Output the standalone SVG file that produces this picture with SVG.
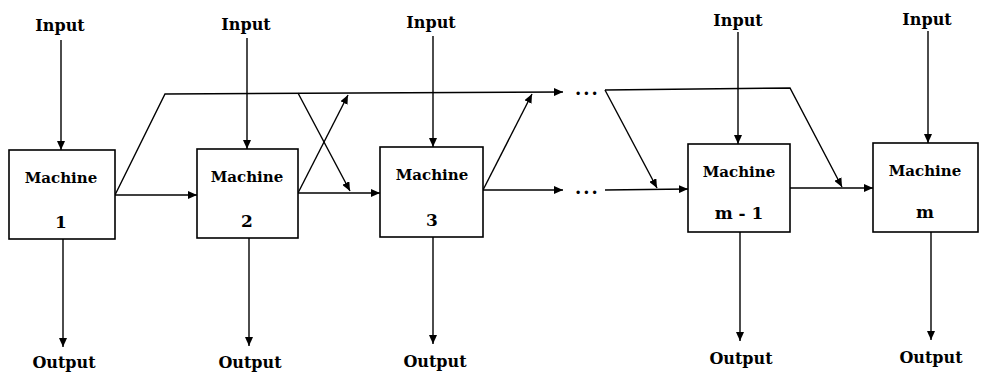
<svg xmlns="http://www.w3.org/2000/svg" width="987" height="375" viewBox="0 0 987 375">
<style>
.box{fill:#fff;stroke:#000;stroke-width:1.6}
.ln{fill:none;stroke:#000;stroke-width:1.4}
.t{font-family:"DejaVu Serif","Liberation Serif",serif;font-weight:bold;font-size:15px;fill:#000;text-anchor:middle}
.num{font-size:17px}
.lbl{font-size:16px}
.dots{font-size:18px;letter-spacing:2px;text-anchor:start}
</style>
<defs>
<marker id="ah" markerUnits="userSpaceOnUse" markerWidth="10" markerHeight="8" refX="9" refY="4" orient="auto">
<path d="M0,0 L9,4 L0,8 Z" fill="#000"/>
</marker>
</defs>
<rect width="987" height="375" fill="#fff"/>
<g id="connectors">
<line class="ln" x1="61" y1="40" x2="61" y2="150" marker-end="url(#ah)"/>
<line class="ln" x1="247" y1="38" x2="247" y2="149" marker-end="url(#ah)"/>
<line class="ln" x1="433" y1="36" x2="433" y2="147" marker-end="url(#ah)"/>
<line class="ln" x1="738" y1="32" x2="738" y2="144" marker-end="url(#ah)"/>
<line class="ln" x1="928" y1="31" x2="928" y2="143" marker-end="url(#ah)"/>
<line class="ln" x1="63" y1="239" x2="63" y2="347" marker-end="url(#ah)"/>
<line class="ln" x1="249" y1="238" x2="249" y2="346" marker-end="url(#ah)"/>
<line class="ln" x1="433" y1="237" x2="433" y2="344" marker-end="url(#ah)"/>
<line class="ln" x1="740" y1="232" x2="740" y2="341" marker-end="url(#ah)"/>
<line class="ln" x1="931" y1="232" x2="931" y2="340" marker-end="url(#ah)"/>
<line class="ln" x1="115" y1="195" x2="197" y2="195" marker-end="url(#ah)"/>
<line class="ln" x1="298" y1="193" x2="380" y2="193" marker-end="url(#ah)"/>
<path class="ln" d="M115,195 L165,94 L563,92" marker-end="url(#ah)"/>
<line class="ln" x1="298" y1="93" x2="350" y2="191" marker-end="url(#ah)"/>
<line class="ln" x1="298" y1="193" x2="348" y2="95" marker-end="url(#ah)"/>
<line class="ln" x1="483" y1="190" x2="532" y2="94" marker-end="url(#ah)"/>
<line class="ln" x1="483" y1="190" x2="563" y2="190" marker-end="url(#ah)"/>
<path class="ln" d="M605,90 L790,88 L842,187" marker-end="url(#ah)"/>
<line class="ln" x1="605" y1="90" x2="657" y2="188" marker-end="url(#ah)"/>
<line class="ln" x1="605" y1="190" x2="688" y2="189" marker-end="url(#ah)"/>
<line class="ln" x1="790" y1="188" x2="873" y2="188" marker-end="url(#ah)"/>
<text class="t dots" x="575" y="95">...</text>
<text class="t dots" x="575" y="194">...</text>
</g>
<g id="machine1">
<rect class="box" x="9" y="150" width="106" height="89"/>
<text class="t" x="61" y="183">Machine</text>
<text class="t num" x="61" y="228">1</text>
<text class="t lbl" x="60" y="31">Input</text>
<text class="t lbl" x="64" y="368">Output</text>
</g>
<g id="machine2">
<rect class="box" x="197" y="149" width="101" height="89"/>
<text class="t" x="247" y="182">Machine</text>
<text class="t num" x="247" y="227">2</text>
<text class="t lbl" x="246" y="30">Input</text>
<text class="t lbl" x="250" y="368">Output</text>
</g>
<g id="machine3">
<rect class="box" x="380" y="147" width="103" height="90"/>
<text class="t" x="432" y="180">Machine</text>
<text class="t num" x="432" y="226">3</text>
<text class="t lbl" x="431" y="28">Input</text>
<text class="t lbl" x="435" y="367">Output</text>
</g>
<g id="machine_m_minus_1">
<rect class="box" x="688" y="144" width="102" height="88"/>
<text class="t" x="739" y="177">Machine</text>
<text class="t num" x="739" y="219">m - 1</text>
<text class="t lbl" x="738" y="26">Input</text>
<text class="t lbl" x="741" y="364">Output</text>
</g>
<g id="machine_m">
<rect class="box" x="873" y="143" width="105" height="89"/>
<text class="t" x="925" y="176">Machine</text>
<text class="t num" x="925" y="218">m</text>
<text class="t lbl" x="927" y="25">Input</text>
<text class="t lbl" x="931" y="363">Output</text>
</g>
</svg>
